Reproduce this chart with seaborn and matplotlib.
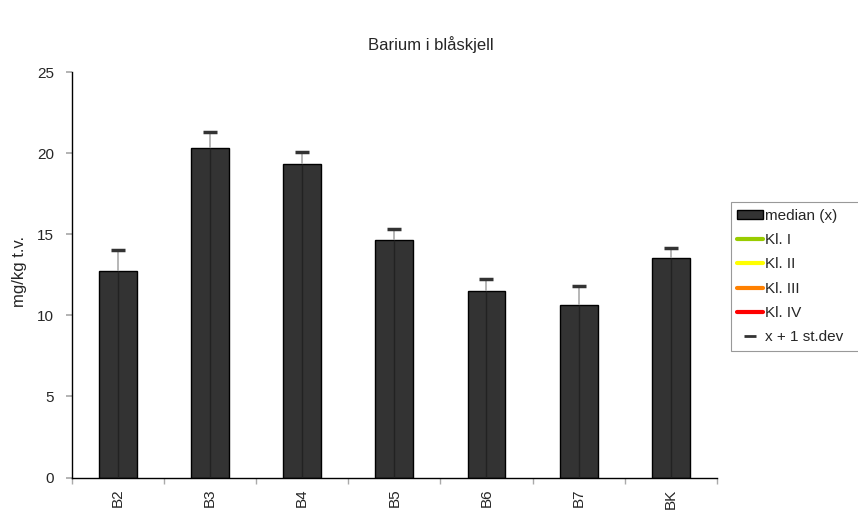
import matplotlib
matplotlib.use("Agg")
import matplotlib.pyplot as plt
import seaborn as sns
import pandas as pd
from matplotlib.patches import Patch
from matplotlib.lines import Line2D

stations = ["B2", "B3", "B4", "B5", "B6", "B7", "BK"]
median = [12.75, 20.3, 19.3, 14.67, 11.52, 10.64, 13.56]
upper = [14.03, 21.28, 20.04, 15.31, 12.22, 11.81, 14.12]
yticks = [0, 5, 10, 15, 20, 25]
legend_labels = ["median (x)", "Kl. I", "Kl. II", "Kl. III", "Kl. IV", "x + 1 st.dev"]
class_colors = ["#99CC00", "#FFFF00", "#FF8000", "#FF0000"]

sns.set_theme(style="white")
plt.rcParams['font.family'] = ['Liberation Sans', 'DejaVu Sans']

df = pd.DataFrame({"station": stations, "median": median, "upper": upper})

fig = plt.figure(figsize=(8.58, 5.11), dpi=100)
ax = fig.add_axes([71.5/858, 1-477.5/511, (717-71.5)/858, (477.5-72)/511])

sns.barplot(data=df, x="station", y="median", color="#333333", width=0.41,
            edgecolor="black", linewidth=1.0, saturation=1, ax=ax, errorbar=None)

xs = list(range(len(stations)))
ax.vlines(xs, 0, df["median"], color="#222222", linewidth=1.0, zorder=3)
ax.vlines(xs, df["median"], df["upper"], color="#aaaaaa", linewidth=1.2, zorder=3)
ax.plot(xs, df["upper"], linestyle="none", marker="_", markersize=10,
        markeredgewidth=2.5, color="#333333", zorder=4)

ax.set_xlim(-0.5, len(stations) - 0.5)
ax.set_ylim(0, 25)
ax.set_yticks(yticks)
ax.set_yticklabels([str(v) for v in yticks], fontsize=11)
ax.set_xticks(xs)
ax.set_xticklabels(stations, rotation=90, fontsize=11)
ax.tick_params(axis="x", which="major", length=0, pad=8)
ax.set_xticks([x - 0.5 for x in range(len(stations) + 1)], minor=True)
ax.tick_params(axis="x", which="minor", length=4.5, color="#aaaaaa", direction="out", bottom=True)
ax.tick_params(axis="y", length=4.5, color="#aaaaaa", direction="out", left=True, pad=8)

for s in ["top", "right"]:
    ax.spines[s].set_visible(False)
for s in ["left", "bottom"]:
    ax.spines[s].set_color("black")
    ax.spines[s].set_linewidth(1.0)

ax.set_xlabel("")
ax.set_ylabel("")
fig.text(19.5/858, 1-271/511, "mg/kg t.v.", rotation=90, ha="center", va="center", fontsize=12)

fig.text(431/858, 1-45/511, "Barium i blåskjell", ha="center", va="center", fontsize=12)

handles = [Patch(facecolor="#333333", edgecolor="black", linewidth=1.0)]
for c in class_colors:
    handles.append(Line2D([0], [0], color=c, linewidth=3))
handles.append(Line2D([0], [0], linestyle="none", marker="_", markersize=8,
                      markeredgewidth=2, color="#333333"))
leg = fig.legend(handles, legend_labels, loc="upper left",
                 bbox_to_anchor=(730.5/858, 1-202/511, 0.25, 0), mode="expand",
                 bbox_transform=fig.transFigure,
                 fontsize=11, frameon=True, fancybox=False, framealpha=1,
                 handlelength=1.7, handleheight=0.5, handletextpad=0.1,
                 labelspacing=0.67, borderpad=0.45, borderaxespad=0)
leg.get_frame().set_edgecolor("#999999")
leg.get_frame().set_linewidth(0.8)

fig.savefig("out.png", dpi=100)
